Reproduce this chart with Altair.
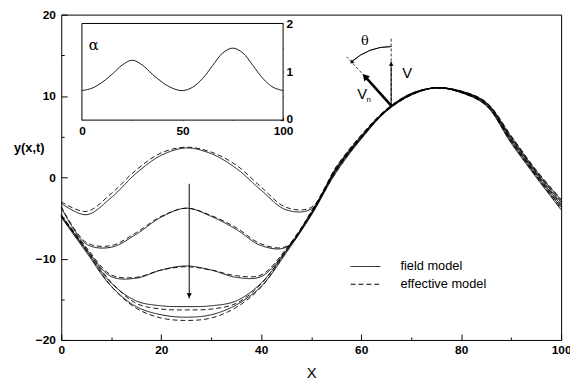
import altair as alt
import pandas as pd

# ---------------- data ----------------
xs = [0, 5, 10, 15, 20, 25, 30, 35, 40, 45, 50, 55, 60, 65, 70, 75, 80, 85, 90, 95, 100]

field_1 = [-3.2, -4.6, -2.5, 0.5, 2.7, 3.6, 2.9, 1.1, -1.6, -4.0, -3.9, 1.2, 5.1, 8.3, 10.3, 11.0, 10.6, 9.2, 5.0, 0.8, -2.8]
field_2 = [-3.7, -8.2, -8.6, -7.0, -4.9, -3.8, -4.8, -6.4, -8.4, -8.6, -4.4, 1.0, 5.0, 8.25, 10.25, 11.0, 10.55, 9.1, 4.8, 0.6, -3.1]
field_3 = [-4.7, -8.8, -12.2, -12.4, -11.4, -10.9, -11.4, -12.3, -12.2, -9.0, -4.5, 0.9, 4.9, 8.2, 10.2, 11.0, 10.5, 9.0, 4.6, 0.4, -3.4]
field_4 = [-4.8, -9.0, -13.0, -15.2, -15.8, -15.9, -15.8, -15.2, -13.0, -9.1, -4.6, 0.8, 4.8, 8.15, 10.15, 11.0, 10.45, 8.9, 4.4, 0.2, -3.7]
field_5 = [-4.9, -9.2, -13.4, -15.9, -16.9, -17.2, -16.9, -15.7, -13.4, -9.3, -4.7, 0.6, 4.7, 8.1, 10.1, 11.0, 10.4, 8.8, 4.2, 0.0, -4.0]

eff_1 = [-3.0, -4.2, -2.0, 0.9, 3.0, 3.7, 3.1, 1.5, -1.2, -3.7, -3.7, 1.3, 5.2, 8.35, 10.3, 11.0, 10.6, 9.25, 5.1, 0.9, -2.7]
eff_2 = [-3.6, -8.0, -8.4, -6.8, -4.8, -3.8, -4.7, -6.2, -8.2, -8.5, -4.2, 1.1, 5.05, 8.25, 10.25, 11.0, 10.55, 9.15, 4.9, 0.7, -3.0]
eff_3 = [-4.6, -8.6, -12.0, -12.3, -11.4, -11.0, -11.4, -12.1, -12.0, -8.8, -4.3, 1.0, 5.0, 8.2, 10.2, 11.0, 10.5, 9.05, 4.7, 0.5, -3.3]
eff_4 = [-4.7, -8.8, -12.9, -15.5, -16.2, -16.3, -16.2, -15.5, -13.1, -8.9, -4.4, 0.9, 4.9, 8.15, 10.15, 11.0, 10.45, 8.95, 4.5, 0.3, -3.6]
eff_5 = [-4.8, -9.0, -13.4, -16.1, -17.3, -17.6, -17.3, -16.0, -13.5, -9.1, -4.5, 0.7, 4.8, 8.1, 10.1, 11.0, 10.4, 8.85, 4.3, 0.1, -3.9]

field_curves = [field_1, field_2, field_3, field_4, field_5]
eff_curves = [eff_1, eff_2, eff_3, eff_4, eff_5]
model_names = ["field model", "effective model"]

alpha_x = [0, 5, 10, 15, 20, 25, 30, 35, 40, 45, 50, 55, 60, 65, 70, 75, 80, 85, 90, 95, 100]
alpha_vals = [0.61, 0.66, 0.78, 0.95, 1.14, 1.24, 1.14, 0.95, 0.78, 0.66, 0.61, 0.68, 0.86, 1.13, 1.39, 1.49, 1.39, 1.13, 0.86, 0.68, 0.61]

x_major = [0, 20, 40, 60, 80, 100]
x_minor = [10, 30, 50, 70, 90]
y_major = [-20, -10, 0, 10, 20]
y_minor = [-15, -5, 5, 15]
inset_x_ticks = [0, 25, 50, 75, 100]
inset_y_ticks = [0, 0.5, 1, 1.5, 2]

# annotation geometry (data units)
drop_arrow_x = [25.6]
drop_arrow_y = [-0.8, -14.9]
base_pt = [66.0, 8.8]
v_tip = [66.0, 14.2]
v_dash_top = [66.0, 17.2]
vn_tip = [60.75, 12.4]
normal_end = [57.1, 14.8]
arc_end = [58.1, 14.15]

# ---------------- geometry ----------------
W, H = 507, 330
inset_px_x = [21, 225]
inset_px_y = [107, 9]

rows = []
for i, (f, e) in enumerate(zip(field_curves, eff_curves)):
    for x, v in zip(xs, f):
        rows.append({"x": x, "y": v, "model": model_names[0], "key": f"f{i}"})
    for x, v in zip(xs, e):
        rows.append({"x": x, "y": v, "model": model_names[1], "key": f"e{i}"})
df = pd.DataFrame(rows)

XS = alt.Scale(domain=[0, 100], nice=False, zero=False)
YS = alt.Scale(domain=[-20, 20], nice=False, zero=False)
FONT = "Liberation Sans"

curves = alt.Chart(df).mark_line(interpolate="catmull-rom", color="black", strokeWidth=0.9).encode(
    x=alt.X("x:Q", scale=XS, axis=alt.Axis(
        values=x_major, tickSize=6, offset=-6, domain=False, grid=False,
        labelPadding=5, labelFlush=False, title="X", titleFontSize=15,
        titleFontWeight="normal", titleFont=FONT, titleBaseline="middle", titleY=39,
        orient="bottom")),
    y=alt.Y("y:Q", scale=YS, axis=alt.Axis(
        values=y_major, tickSize=6, offset=-6, domain=False, grid=False,
        labelPadding=6, title="y(x,t)", titleAngle=0, titleAlign="center",
        titleBaseline="middle", titleX=-39, titleY=135, titleFontSize=13,
        titleFont=FONT, titleFontWeight="bold", orient="left")),
    strokeDash=alt.StrokeDash("model:N", scale=alt.Scale(domain=model_names, range=[[1, 0], [5, 3]]),
                              legend=alt.Legend(orient="none", legendX=302, legendY=249, title=None,
                                                symbolType="M-3,0H3", symbolSize=100, symbolStrokeWidth=1,
                                                symbolStrokeColor="black", labelFontSize=13, labelFont=FONT,
                                                labelOffset=29, rowPadding=4, padding=0)),
    detail="key:N",
)

minor_df = pd.DataFrame({"x": [0, 100], "y": [-20, 20]})
minor = alt.Chart(minor_df).mark_point(opacity=0).encode(
    x=alt.X("x:Q", scale=XS, axis=alt.Axis(values=x_minor, tickSize=3, offset=-3, domain=False,
                                           labels=False, title=None, grid=False, orient="bottom")),
    y=alt.Y("y:Q", scale=YS, axis=alt.Axis(values=y_minor, tickSize=3, offset=-3, domain=False,
                                           labels=False, title=None, grid=False, orient="left")),
)

# drop arrow
drop_df = pd.DataFrame({"x": drop_arrow_x, "y": [drop_arrow_y[0]], "y2": [drop_arrow_y[1]]})
drop_line = alt.Chart(drop_df).mark_rule(color="black", strokeWidth=1).encode(
    x=alt.X("x:Q", scale=XS, axis=None), y=alt.Y("y:Q", scale=YS, axis=None), y2="y2:Q")
drop_head = alt.Chart(drop_df).mark_point(shape="triangle-down", filled=True, color="black", size=28,
                                          opacity=1, yOffset=-3).encode(
    x=alt.X("x:Q", scale=XS, axis=None), y=alt.Y("y2:Q", scale=YS, axis=None))

# velocity construction
seg_df = pd.DataFrame([
    {"x": base_pt[0], "y": base_pt[1], "x2": v_dash_top[0], "y2": v_dash_top[1]},
    {"x": vn_tip[0], "y": vn_tip[1], "x2": normal_end[0], "y2": normal_end[1]},
])
dash_lines = alt.Chart(seg_df).mark_rule(color="black", strokeWidth=0.8, strokeDash=[3, 2]).encode(
    x=alt.X("x:Q", scale=XS, axis=None), y=alt.Y("y:Q", scale=YS, axis=None), x2="x2:Q", y2="y2:Q")

v_df = pd.DataFrame({"x": [base_pt[0]], "y": [base_pt[1]], "x2": [v_tip[0]], "y2": [v_tip[1]]})
v_line = alt.Chart(v_df).mark_rule(color="black", strokeWidth=1).encode(
    x=alt.X("x:Q", scale=XS, axis=None), y=alt.Y("y:Q", scale=YS, axis=None), x2="x2:Q", y2="y2:Q")
v_head = alt.Chart(v_df).mark_point(shape="triangle-up", filled=True, color="black", size=22,
                                    opacity=1, yOffset=2).encode(
    x=alt.X("x2:Q", scale=XS, axis=None), y=alt.Y("y2:Q", scale=YS, axis=None))

vn_df = pd.DataFrame({"x": [base_pt[0]], "y": [base_pt[1]], "x2": [vn_tip[0]], "y2": [vn_tip[1]]})
vn_line = alt.Chart(vn_df).mark_rule(color="black", strokeWidth=2.6).encode(
    x=alt.X("x:Q", scale=XS, axis=None), y=alt.Y("y:Q", scale=YS, axis=None), x2="x2:Q", y2="y2:Q")
vn_head = alt.Chart(vn_df).mark_point(shape="triangle-up", filled=True, color="black", size=60,
                                      opacity=1, angle=318).encode(
    x=alt.X("x2:Q", scale=XS, axis=None), y=alt.Y("y2:Q", scale=YS, axis=None))

arc_df = pd.DataFrame({"x": [base_pt[0]], "y": [base_pt[1]]})
theta_arc = alt.Chart(arc_df).mark_arc(radius=60, radius2=60, theta=5.55, theta2=6.2832,
                                       filled=False, stroke="black", strokeWidth=0.8).encode(
    x=alt.X("x:Q", scale=XS, axis=None), y=alt.Y("y:Q", scale=YS, axis=None))
arc_head_df = pd.DataFrame({"x": [arc_end[0]], "y": [arc_end[1]]})
arc_head = alt.Chart(arc_head_df).mark_point(shape="triangle-up", filled=True, color="black", size=18,
                                             opacity=1, angle=228).encode(
    x=alt.X("x:Q", scale=XS, axis=None), y=alt.Y("y:Q", scale=YS, axis=None))

theta_df = pd.DataFrame({"x": [60.75], "y": [16.7], "t": ["θ"]})
theta_lab = alt.Chart(theta_df).mark_text(color="black", baseline="middle", align="center",
                                          font="DejaVu Serif", fontSize=13).encode(
    x=alt.X("x:Q", scale=XS, axis=None), y=alt.Y("y:Q", scale=YS, axis=None), text="t:N")

v_lab_df = pd.DataFrame({"x": [69.2, 60.2], "y": [12.85, 10.2], "t": ["V", "V"]})
v_labs = alt.Chart(v_lab_df).mark_text(color="black", baseline="middle", align="center",
                                       font=FONT, fontSize=15).encode(
    x=alt.X("x:Q", scale=XS, axis=None), y=alt.Y("y:Q", scale=YS, axis=None), text="t:N")
n_lab_df = pd.DataFrame({"x": [61.5], "y": [9.5], "t": ["n"]})
n_lab = alt.Chart(n_lab_df).mark_text(color="black", baseline="middle", align="center",
                                      font=FONT, fontSize=8).encode(
    x=alt.X("x:Q", scale=XS, axis=None), y=alt.Y("y:Q", scale=YS, axis=None), text="t:N")

main = alt.layer(curves, minor, drop_line, drop_head, dash_lines, v_line, v_head, vn_line, vn_head,
                 theta_arc, arc_head, theta_lab, v_labs, n_lab).resolve_axis(x="independent", y="independent")

# ---------------- inset ----------------
alpha_df = pd.DataFrame({"x": alpha_x, "a": alpha_vals})
IXS = alt.Scale(domain=[0, 100], range=inset_px_x, nice=False, zero=False)
IYS = alt.Scale(domain=[0, 2], range=inset_px_y, nice=False, zero=False)
box_df = pd.DataFrame({"x": [0], "x2": [100], "a": [0], "a2": [2]})
inset_box = alt.Chart(box_df).mark_rect(fill="white", stroke="black", strokeWidth=1).encode(
    x=alt.X("x:Q", scale=IXS, axis=alt.Axis(values=inset_x_ticks, tickSize=3, offset=-(H - 107) - 3,
                                            domain=False, grid=False, labelPadding=6, labelFlush=False,
                                            labelExpr="datum.value % 50 === 0 ? datum.label : ''",
                                            title=None, orient="bottom")),
    x2="x2:Q",
    y=alt.Y("a:Q", scale=IYS, axis=alt.Axis(values=inset_y_ticks, tickSize=3, offset=-(W - 225) - 3,
                                            domain=False, grid=False, labelPadding=3,
                                            labelOffset={"condition": {"test": "datum.value === 0", "value": -2}, "value": 0},
                                            labelExpr="datum.value % 1 === 0 ? format(datum.value, 'd') : ''",
                                            title=None, orient="right")),
    y2="a2:Q",
)
inset_line = alt.Chart(alpha_df).mark_line(interpolate="catmull-rom", color="black", strokeWidth=0.9).encode(
    x=alt.X("x:Q", scale=IXS), y=alt.Y("a:Q", scale=IYS))
alpha_lab_df = pd.DataFrame({"x": [5.9], "a": [1.55], "t": ["α"]})
inset_text = alt.Chart(alpha_lab_df).mark_text(font="DejaVu Serif", fontSize=15, baseline="middle",
                                               align="center", color="black").encode(
    x=alt.X("x:Q", scale=IXS), y=alt.Y("a:Q", scale=IYS), text="t:N")
inset = alt.layer(inset_box, inset_line, inset_text)

chart = alt.layer(main, inset).resolve_scale(x="independent", y="independent").properties(
    width=W, height=H,
    background="white",
    autosize=alt.AutoSizeParams(type="none"),
    padding={"left": 54, "top": 4, "right": 9, "bottom": 45},
).configure_view(stroke="black", strokeWidth=1).configure_axis(
    labelFont=FONT, labelFontSize=12, labelFontWeight="bold", labelColor="black",
    tickColor="black", tickWidth=1, titleColor="black"
)

chart.save("out.html", embed_options={"renderer": "svg", "actions": False})
